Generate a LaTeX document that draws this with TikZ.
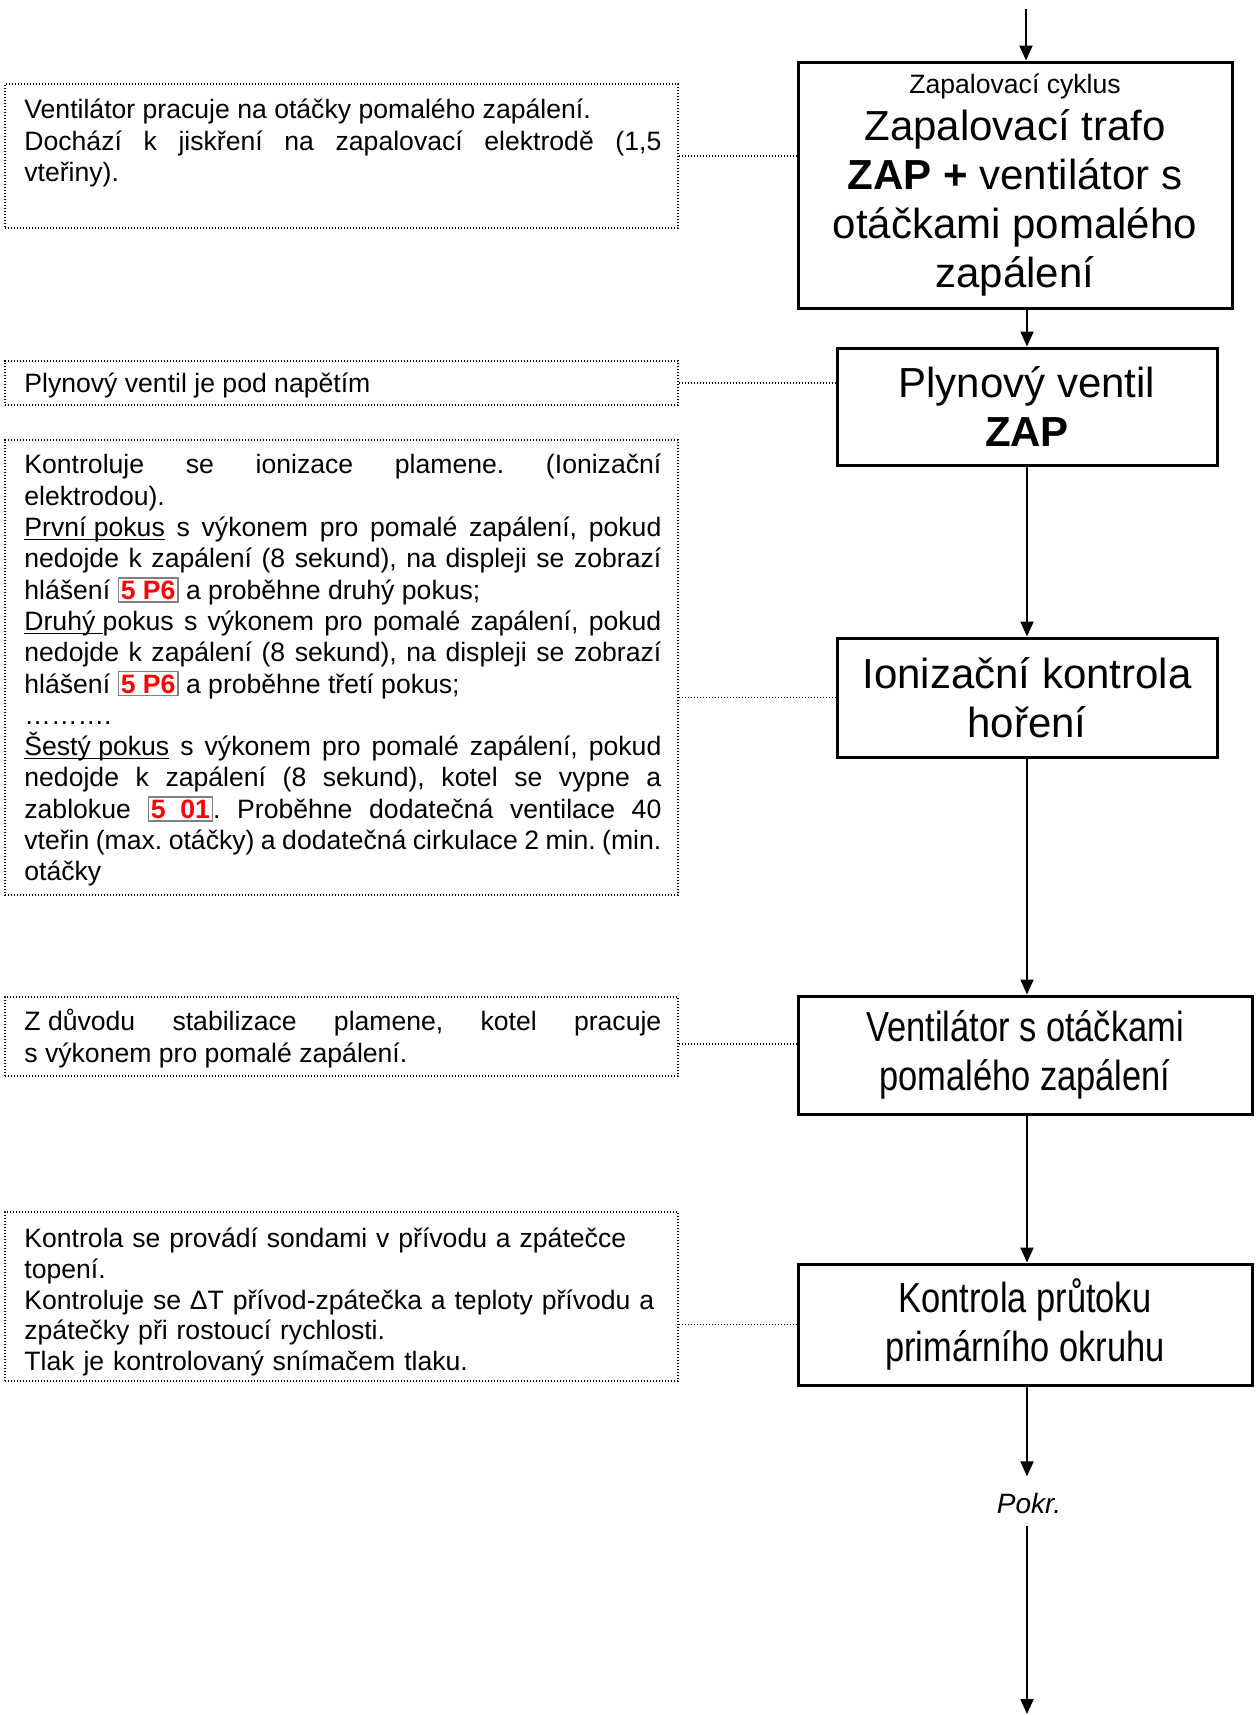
\documentclass[tikz,border=0pt]{standalone}
\usepackage{fontspec}
\setmainfont{Liberation Sans}
\newfontfamily\narrowfont[FakeStretch=0.82]{Liberation Sans}
\usetikzlibrary{arrows.meta}
\newcommand{\errcode}[1]{\begingroup\setlength{\fboxsep}{1pt}\setlength{\fboxrule}{0.6pt}\fcolorbox{gray}{white}{\textcolor{red}{\textbf{#1}}}\endgroup}
\newsavebox{\myulbox}
\newcommand{\myul}[1]{\sbox{\myulbox}{#1}\rlap{\rule[-1.7pt]{\wd\myulbox}{0.6pt}}\usebox{\myulbox}}
\begin{document}
\frenchspacing
\begin{tikzpicture}[x=0.5pt,y=-0.5pt,
  flow/.style={draw, line width=1.5pt, inner sep=0pt, align=center, font=\fontsize{21}{24.5}\selectfont},
  narrowflow/.style={flow, font=\narrowfont\fontsize{21}{24.5}\selectfont},
  notebox/.style={draw, line width=0.6pt, dash pattern=on 0.6pt off 0.9pt, inner sep=0pt, minimum width=336.5pt},
  notetext/.style={anchor=north west, inner sep=0pt, text width=318.5pt, align=justify, font=\frenchspacing\fontsize{13.3}{15.65}\selectfont},
  arr/.style={line width=1pt, -{Triangle[length=7.5pt,width=6.5pt]}},
  link/.style={line width=0.6pt, dash pattern=on 0.6pt off 0.9pt},
]
\useasboundingbox (0,0) rectangle (1255,1715);

% flow boxes
\node[flow, minimum width=217pt, minimum height=123pt] (b1) at (1015,185)
  {{\fontsize{13.3}{15}\selectfont Zapalovací cyklus}\\[-1pt]
   Zapalovací trafo\\ \textbf{ZAP +} ventilátor s\\ otáčkami pomalého\\ zapálení};
\node[flow, minimum width=190pt, minimum height=58.5pt] (b2) at (1027,406.5)
  {Plynový ventil\\ \textbf{ZAP}};
\node[flow, minimum width=190pt, minimum height=59.5pt] (b3) at (1027,697.5)
  {Ionizační kontrola\\ hoření};
\node[narrowflow, minimum width=227pt, minimum height=59pt] (b4) at (1025,1055)
  {Ventilátor s otáčkami\\ pomalého zapálení};
\node[narrowflow, minimum width=227pt, minimum height=60.5pt] (b5) at (1025,1324.5)
  {Kontrola průtoku\\ primárního okruhu};
\node[inner sep=0pt, font=\fontsize{14}{16}\selectfont\itshape] (pk) at (1029,1503) {Pokr.};

\coordinate (in) at (1026,9);
\coordinate (out) at (1027,1714);

% arrows
\draw[arr] (in) -- (in |- b1.north);
\draw[arr] (b1.south -| b2.north) -- (b2.north);
\draw[arr] (b2.south) -- (b3.north);
\draw[arr] (b3.south) -- (b3.south |- b4.north);
\draw[arr] (b3.south |- b4.south) -- (b3.south |- b5.north);
\draw[arr, shorten >=8pt] (b3.south |- b5.south) -- (b3.south |- pk.north);
\draw[arr, shorten <=6pt] (b3.south |- pk.south) -- (out);

% notes
\node[notebox, minimum height=72pt] (n1) at (341.5,156) {};
\node[notetext] (t1) at (24,90.5)
  {\rule{0pt}{14pt}Ventilátor pracuje na otáčky pomalého zapálení.\\
   Dochází k jiskření na zapalovací elektrodě (1,5\linebreak vteřiny).};

\node[notebox, minimum height=22pt] (n2) at (341.5,383) {};
\node[notetext] (t2) at (24,364.5)
  {\rule{0pt}{14pt}Plynový ventil je pod napětím};

\node[notebox, minimum height=227.5pt] (n3) at (341.5,667.5) {};
\node[notetext] (t3) at (24,445.5)
  {\rule{0pt}{14pt}Kontroluje se ionizace plamene. (Ionizační\linebreak elektrodou).\\
   \myul{První pokus} s výkonem pro pomalé zapálení, pokud\linebreak
   nedojde k zapálení (8 sekund), na displeji se zobrazí\linebreak
   hlášení \errcode{5 P6} a proběhne druhý pokus;\\
   \myul{Druhý\ }pokus s výkonem pro pomalé zapálení, pokud\linebreak
   nedojde k zapálení (8 sekund), na displeji se zobrazí\linebreak
   hlášení \errcode{5 P6} a proběhne třetí pokus;\\
   ……….\\
   \myul{Šestý pokus} s výkonem pro pomalé zapálení, pokud\linebreak
   nedojde k zapálení (8 sekund), kotel se vypne a\linebreak
   zablokue \errcode{5\ \ 01}. Proběhne dodatečná ventilace 40\linebreak
   vteřin (max. otáčky) a dodatečná cirkulace 2 min. (min.\linebreak
   otáčky};

\node[notebox, minimum height=39.5pt] (n4) at (341.5,1036.5) {};
\node[notetext] (t4) at (24,1002.5)
  {\rule{0pt}{14pt}\mbox{Z důvodu} stabilizace plamene, kotel pracuje\linebreak s výkonem pro pomalé zapálení.};

\node[notebox, minimum height=84.5pt] (n5) at (341.5,1296.5) {};
\node[notetext, align=left, font=\fontsize{13.3}{15.3}\selectfont] (t5) at (24,1219.5)
  {\rule{0pt}{14pt}Kontrola se provádí sondami v přívodu a zpátečce\\
   topení.\\
   Kontroluje se ΔT přívod-zpátečka a teploty přívodu a\\
   zpátečky při rostoucí rychlosti.\\
   Tlak je kontrolovaný snímačem tlaku.};

% dotted links
\draw[link] (n1.east) -- (n1.east -| b1.west);
\draw[link] (n2.east) -- (n2.east -| b2.west);
\draw[link] (b3.west -| n3.east) -- (b3.west);
\draw[link, line width=0.9pt] ([yshift=-3.75pt]n4.east) -- ([yshift=-3.75pt]n4.east -| b4.west);
\draw[link] (b5.west -| n5.east) -- (b5.west);
\end{tikzpicture}
\end{document}
